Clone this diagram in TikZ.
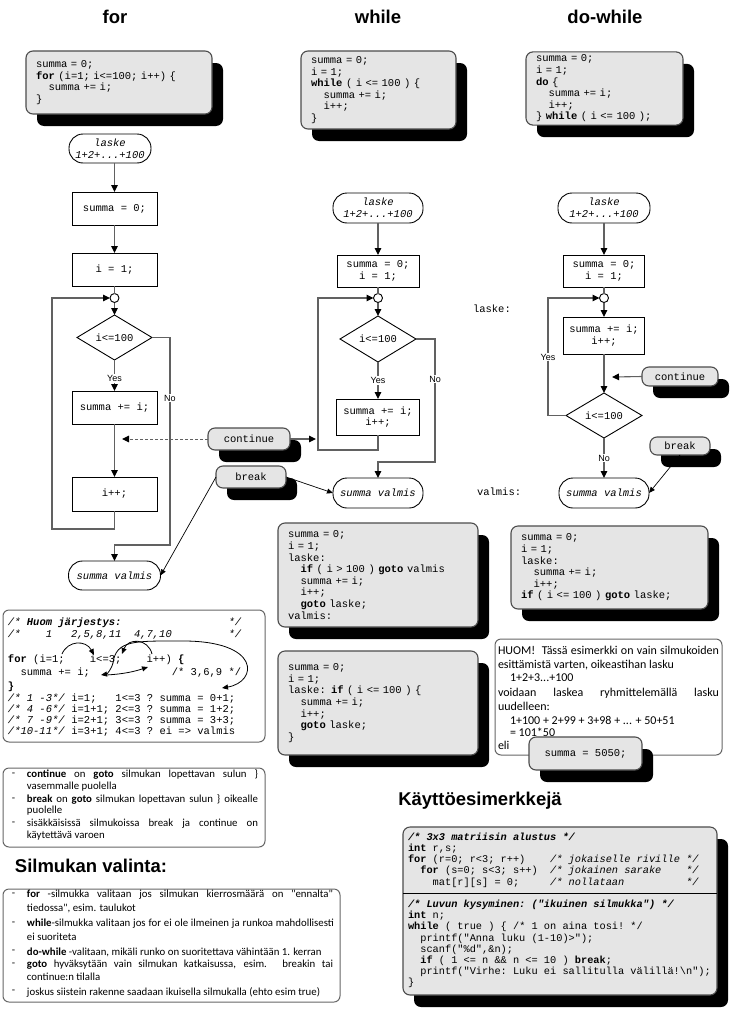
\documentclass[tikz,border=0pt]{standalone}
\usepackage{fontspec}
\setmainfont{Liberation Sans}
\setsansfont{Liberation Sans}
\setmonofont{Liberation Mono}
\newfontfamily\bodyfont{Carlito}
\usetikzlibrary{arrows.meta,shapes.geometric,shadows}

\newcommand\codesize{\fontsize{10.5}{11.6}\selectfont}
\newcommand\tabtwo{\phantom{xx}}
\newcommand\tabfour{\phantom{xxxx}}

\tikzset{
  every node/.style={inner sep=0pt, outer sep=0pt},
  conn/.style={draw=black!62, line width=1.1pt, -{Triangle[length=7pt,width=6.5pt,color=black]}},
  plain/.style={draw=black!62, line width=1.1pt},
  thinarr/.style={draw=black, line width=0.7pt, -{Triangle[length=6pt,width=5pt]}},
  dasharr/.style={draw=black!62, line width=1pt, dash pattern=on 3pt off 2pt, -{Triangle[length=7pt,width=6.5pt,color=black]}},
  procbox/.style={draw=black, line width=0.9pt, fill=white, rectangle, font=\ttfamily\codesize, align=center},
  term/.style={draw=black, line width=0.9pt, fill=white, rectangle, rounded corners=14pt, font=\ttfamily\itshape\codesize, align=center},
  decision/.style={draw=black, line width=0.9pt, fill=white, diamond, aspect=1.7, font=\ttfamily\codesize},
  junction/.style={draw=black, line width=0.9pt, fill=white, circle, minimum size=9pt},
  ylabel/.style={fill=white, inner sep=1.2pt, font=\fontsize{9}{9}\selectfont},
  codebox/.style={draw=black!70, line width=1.1pt, fill=black!10, rounded corners=7pt, font=\ttfamily\codesize, align=left, inner xsep=10pt, inner ysep=3pt, general shadow={fill=black, shadow xshift=11pt, shadow yshift=-12pt}},
  tagbox/.style={codebox, align=center, inner xsep=0pt},
  notebox/.style={draw=black!60, line width=1pt, fill=white, rounded corners=6pt},
  heading/.style={font=\bfseries\fontsize{18.5}{18.5}\selectfont},
  codeline/.style={anchor=west, font=\ttfamily\codesize},
  bodyline/.style={anchor=west, font=\bodyfont\fontsize{10.8}{10.8}\selectfont},
  noteline/.style={anchor=west, font=\bodyfont\fontsize{12}{12}\selectfont},
  sample/.style={anchor=west, font=\ttfamily\fontsize{10.3}{11.2}\selectfont, align=left},
  gtip/.style={draw=black, line width=0.8pt, -{Triangle[length=6pt,width=5pt]}},
}

\begin{document}
\begin{tikzpicture}[x=1pt,y=-1pt]
\useasboundingbox (0,0) rectangle (730,1009);

% ---------- headings ----------
\node[heading] (hFor) at (115,17) {for};
\node[heading] (hWhile) at (378,17) {while};
\node[heading] (hDo) at (605,17) {do-while};

% ---------- source code of the three loops ----------
\node[codebox, text width=166pt, minimum height=63pt] (cFor) at (119,82.5)
  {summa = 0;\\\textbf{for} (i=1; i<=100; i++) \{\\\tabtwo summa += i;\\\}};
\node[codebox, text width=135pt, minimum height=78pt] (cWhile) at (378.5,90)
  {summa = 0;\\i = 1;\\\textbf{while} ( i <= 100 ) \{\\\tabtwo summa += i;\\\tabtwo i++;\\\}};
\node[codebox, text width=137pt, minimum height=67pt] (cDo) at (604.5,88.5)
  {summa = 0;\\i = 1;\\\textbf{do} \{\\\tabtwo summa += i;\\\tabtwo i++;\\\} \textbf{while} ( i <= 100 );};

% ---------- for flowchart ----------
\node[term, minimum width=82pt, minimum height=29pt] (fT) at (110,148.5) {laske\\1+2+...+100};
\node[procbox, minimum width=85pt, minimum height=33pt] (fS0) at (114.5,208.5) {summa = 0;};
\node[procbox, minimum width=85pt, minimum height=33pt] (fI1) at (114.5,269.5) {i = 1;};
\node[junction] (fJ) at (114.5,298) {};
\node[decision, minimum width=75pt, minimum height=45pt] (fD) at (114.5,337.5) {i<=100};
\node[procbox, minimum width=85pt, minimum height=33pt] (fB) at (114.5,407.5) {summa += i;};
\node[procbox, minimum width=85pt, minimum height=34pt] (fP) at (114.5,494) {i++;};
\node[term, minimum width=92pt, minimum height=29pt] (fE) at (114.5,575.5) {summa valmis};
\coordinate (fLoop) at (52,529);
\coordinate (fNo) at (170,545);

\draw[conn] (fT.south -| fS0.north) -- (fS0.north);
\draw[conn] (fS0) -- (fI1);
\draw[plain] (fI1) -- (fJ);
\draw[conn] (fJ) -- (fD);
\draw[conn] (fD) -- node[ylabel, pos=0.6] {Yes} (fB);
\draw[conn] (fB) -- (fP);
\draw[conn] (fP.south) |- (fLoop) |- (fJ.west);
\draw[conn] (fD.east) -| (fNo) -| (fE.north);
\node[ylabel] (fNoLbl) at (170,398) {No};

% ---------- while flowchart ----------
\node[term, minimum width=90pt, minimum height=30pt] (wT) at (378,208) {laske\\1+2+...+100};
\node[procbox, minimum width=82pt, minimum height=32pt] (wS) at (378,271) {summa = 0;\\i = 1;};
\node[junction] (wJ) at (378,298) {};
\node[decision, minimum width=76pt, minimum height=46pt] (wD) at (378,339) {i<=100};
\node[procbox, minimum width=83pt, minimum height=36pt] (wB) at (378,417) {summa += i;\\i++;};
\node[term, minimum width=90pt, minimum height=30pt] (wE) at (378,493) {summa valmis};
\coordinate (wLoop) at (318,450);
\coordinate (wNo) at (435,462);

\draw[conn] (wT) -- (wS);
\draw[plain] (wS) -- (wJ);
\draw[conn] (wJ) -- (wD);
\draw[conn] (wD) -- node[ylabel, pos=0.5] {Yes} (wB);
\draw[conn] (wB.south) |- (wLoop) |- (wJ.west);
\draw[conn] (wD.east) -| (wNo) -| (wE.north);
\node[ylabel] (wNoLbl) at (435,379) {No};

% ---------- continue / break between for and while ----------
\node[tagbox, minimum width=82pt, minimum height=22pt] (fC) at (249,439) {continue};
\coordinate (fCt) at (122,439);
\coordinate (wCt) at (316,439);
\draw[dasharr] (fC.west) -- (fCt);
\draw[conn] (fC.east) -- (wCt);
\node[tagbox, minimum width=70pt, minimum height=22pt] (fK) at (251,477) {break};
\draw[thinarr] (fK.west) -- (fE.east);
\draw[thinarr] (fK.east) -- (wE.west);

% ---------- do-while flowchart ----------
\node[term, minimum width=92pt, minimum height=30pt] (dT) at (604,208) {laske\\1+2+...+100};
\node[procbox, minimum width=81pt, minimum height=32pt] (dS) at (604,271) {summa = 0;\\i = 1;};
\node[junction] (dJ) at (604,298) {};
\node[procbox, minimum width=81pt, minimum height=37pt] (dB) at (604,335.5) {summa += i;\\i++;};
\node[decision, minimum width=76pt, minimum height=45pt] (dD) at (604,415.5) {i<=100};
\node[term, minimum width=90pt, minimum height=30pt] (dE) at (604,493) {summa valmis};
\coordinate (dLoop) at (548,415.5);

\draw[conn] (dT) -- (dS);
\draw[plain] (dS) -- (dJ);
\draw[conn] (dJ) -- (dB);
\draw[conn] (dB) -- (dD);
\draw[conn] (dD.west) -- (dLoop) |- (dJ.west);
\node[ylabel] (dYesLbl) at (548,357) {Yes};
\draw[conn] (dD) -- node[ylabel, pos=0.5] {No} (dE);

\node[tagbox, minimum width=76pt, minimum height=19pt] (dC) at (680,376.5) {continue};
\coordinate (dCt) at (612,377);
\draw[conn] (dC.west) -- (dCt);
\node[tagbox, minimum width=60pt, minimum height=18pt] (dK) at (680,446) {break};
\draw[thinarr] (dK.south) -- (dE.east);

\node[codeline] (lblLaske) at (473,309) {laske:};
\node[codeline] (lblValmis) at (477,492) {valmis:};

% ---------- goto versions ----------
\node[codebox, text width=180pt, minimum height=104pt] (gWhile1) at (378,575)
  {summa = 0;\\i = 1;\\laske:\\\tabtwo\textbf{if} ( i > 100 ) \textbf{goto} valmis\\\tabtwo summa += i;\\\tabtwo i++;\\\tabtwo\textbf{goto} laske;\\valmis:};
\node[codebox, text width=180pt, minimum height=104pt] (gWhile2) at (378,703)
  {summa = 0;\\i = 1;\\laske: \textbf{if} ( i <= 100 ) \{\\\tabtwo summa += i;\\\tabtwo i++;\\\tabtwo\textbf{goto} laske;\\\}};
\node[codebox, text width=177pt, minimum height=83pt] (gDo) at (609.5,567.5)
  {summa = 0;\\i = 1;\\laske:\\\tabtwo summa += i;\\\tabtwo i++;\\\textbf{if} ( i <= 100 ) \textbf{goto} laske;};

% ---------- note on the closed form ----------
\node[notebox, minimum width=227pt, minimum height=116pt] (note) at (608.5,697) {};
\node[noteline] (n1) at (498,650) {\makebox[221pt][s]{HUOM!~ Tässä esimerkki on vain silmukoiden}};
\node[noteline] (n2) at (498,665) {esittämistä varten, oikeastihan lasku};
\node[noteline] (n3) at (510,678) {1+2+3...+100};
\node[noteline] (n4) at (498,693) {\makebox[221pt][s]{voidaan laskea ryhmittelemällä lasku}};
\node[noteline] (n5) at (498,706) {uudelleen:};
\node[noteline] (n6) at (510,720) {1+100 + 2+99 + 3+98 + ... + 50+51};
\node[noteline] (n7) at (510,732) {= 101*50};
\node[noteline] (n8) at (498,745) {eli};
\node[tagbox, minimum width=113pt, minimum height=33pt] (s5050) at (585.5,753.5) {summa = 5050;};

% ---------- evaluation order of a for loop ----------
\node[notebox, minimum width=262pt, minimum height=132pt] (order) at (134,676) {};
\node[codeline] (o1) at (8,623) {\textit{/*~\textbf{Huom~järjestys:}~~~~~~~~~~~~~~~~~*/}};
\node[codeline] (o2) at (8,635) {\textit{/*~~~~1~~~2,5,8,11~~4,7,10~~~~~~~~~*/}};
\node[codeline] (o3) at (8,660) {\textbf{for}~(i=1;~~~~i<=3;~~~~i++)~\textbf{\{}};
\node[codeline] (o4) at (8,673) {\tabtwo summa~+=~i;~~~~~~~~~~~~~/*~3,6,9~*/};
\node[codeline] (o5) at (8,687) {\textbf{\}}};
\node[codeline] (o6) at (8,699) {\textit{/*~1~-3*/}~i=1;~~~1<=3~?~summa~=~0+1;};
\node[codeline] (o7) at (8,710) {\textit{/*~4~-6*/}~i=1+1;~2<=3~?~summa~=~1+2;};
\node[codeline] (o8) at (8,721) {\textit{/*~7~-9*/}~i=2+1;~3<=3~?~summa~=~3+3;};
\node[codeline] (o9) at (8,732) {\textit{/*10-11*/}~i=3+1;~4<=3~?~ei~=>~valmis};

\coordinate (oInit) at (62,654);
\coordinate (oCondA) at (94,655);
\coordinate (oCondB) at (122,654);
\coordinate (oCond) at (113,663);
\coordinate (oBody) at (101,675);
\coordinate (oBodyR) at (106,675);
\coordinate (oStepB) at (148,667);
\coordinate (oStepT) at (152,654);
\coordinate (oExit) at (222,688);
\draw[gtip] (oInit) .. controls (68,640) and (86,640) .. (oCondA);
\draw[gtip] (oStepT) .. controls (148,638) and (128,638) .. (oCondB);
\draw[gtip] (oCond) .. controls (111,670) and (107,674) .. (oBody);
\draw[gtip] (oBodyR) .. controls (125,674) and (136,671) .. (oStepB);
\draw[gtip] (oCond) .. controls (116,640) and (135,641) .. (180,641)
               .. controls (262,640) and (258,682) .. (oExit);

% ---------- continue / break notes ----------
\node[notebox, minimum width=262pt, minimum height=79pt] (hints) at (134,807.5) {};
\node[bodyline] (hd1) at (12,775) {-};
\node[bodyline] (hd2) at (12,800) {-};
\node[bodyline] (hd3) at (12,824) {-};
\node[bodyline] (h1) at (27,775) {\makebox[231pt][s]{\textbf{continue} on \textbf{goto} silmukan lopettavan sulun \}}};
\node[bodyline] (h2) at (27,787) {vasemmalle puolella};
\node[bodyline] (h3) at (27,800) {\makebox[231pt][s]{\textbf{break} on \textbf{goto} silmukan lopettavan sulun \} oikealle}};
\node[bodyline] (h4) at (27,811) {puolelle};
\node[bodyline] (h5) at (27,824) {\makebox[231pt][s]{sisäkkäisissä silmukoissa break ja continue on}};
\node[bodyline] (h6) at (27,836) {käytettävä varoen};

% ---------- choosing a loop ----------
\node[heading] (hSel) at (91,866) {Silmukan valinta:};
\node[notebox, minimum width=337pt, minimum height=113pt] (choice) at (171.5,945.5) {};
\node[bodyline] (id1) at (12,895) {-};
\node[bodyline] (id2) at (12,924) {-};
\node[bodyline] (id3) at (12,952) {-};
\node[bodyline] (id4) at (12,965) {-};
\node[bodyline] (id5) at (12,992) {-};
\node[bodyline] (i1) at (27,895) {\makebox[306pt][s]{\textbf{for} -silmukka valitaan jos silmukan kierrosmäärä on "ennalta"}};
\node[bodyline] (i2) at (27,908) {tiedossa", esim. taulukot};
\node[bodyline] (i3) at (27,924) {\makebox[307pt][s]{\textbf{while}-silmukka valitaan jos for ei ole ilmeinen ja runkoa mahdollisesti}};
\node[bodyline] (i4) at (27,937) {ei suoriteta};
\node[bodyline] (i5) at (27,952) {\textbf{do-while} -valitaan, mikäli runko on suoritettava vähintään 1. kerran};
\node[bodyline] (i6) at (27,965) {\makebox[306pt][s]{\textbf{goto} hyväksytään vain silmukan katkaisussa, esim. breakin tai}};
\node[bodyline] (i7) at (27,977) {continue:n tilalla};
\node[bodyline] (i8) at (27,992) {joskus siistein rakenne saadaan ikuisella silmukalla (ehto esim true)};

% ---------- usage examples ----------
\node[heading] (hEx) at (480,801) {Käyttöesimerkkejä};
\node[codebox, minimum width=314pt, minimum height=168pt] (ex) at (560,911) {};
\coordinate (exDiv) at (560,893);
\draw[black, line width=0.8pt] (ex.west |- exDiv) -- (ex.east |- exDiv);
\node[sample] (ex1) at (408,860)
  {\textbf{\textit{/*~3x3~matriisin~alustus~*/}}\\
   \textbf{int}~r,s;\\
   \textbf{for}~(r=0;~r<3;~r++)~~~~\textit{/*~jokaiselle~riville~*/}\\
   \tabtwo\textbf{for}~(s=0;~s<3;~s++)~~\textit{/*~jokainen~sarake~~~~*/}\\
   \tabfour mat[r][s]~=~0;~~~~~\textit{/*~nollataan~~~~~~~~~~*/}};
\node[sample] (ex2) at (408,944)
  {\textbf{\textit{/*~Luvun~kysyminen:~("ikuinen~silmukka")~*/}}\\
   \textbf{int}~n;\\
   \textbf{while}~(~true~)~\{~/*~1~on~aina~tosi!~*/\\
   \tabtwo printf("Anna~luku~(1-10)>");\\
   \tabtwo scanf("\%d",\&n);\\
   \tabtwo\textbf{if}~(~1~<=~n~\&\&~n~<=~10~)~\textbf{break};\\
   \tabtwo printf("Virhe:~Luku~ei~sallitulla~välillä!\textbackslash{}n");\\
   \}};

\end{tikzpicture}
\end{document}
